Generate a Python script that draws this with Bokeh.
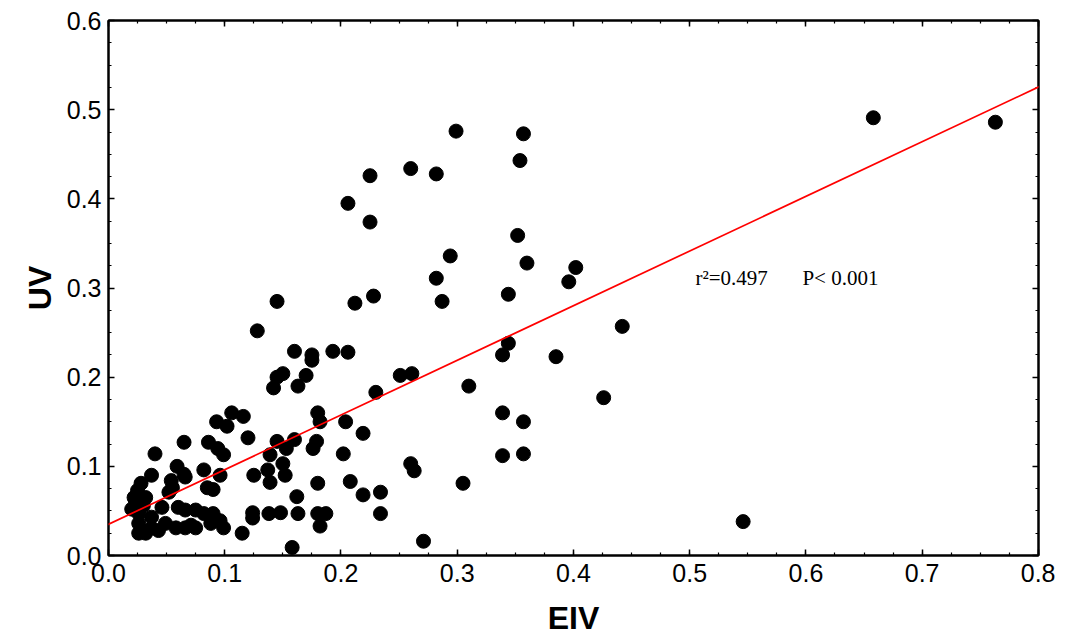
from bokeh.plotting import figure
from bokeh.models import (LinearAxis, SingleIntervalTicker, PrintfTickFormatter,
                          Slope, Label, Range1d, ColumnDataSource)
from bokeh.embed import file_html
from bokeh.resources import INLINE

# ---- data ----
eiv = [0.299, 0.357, 0.354, 0.260, 0.282, 0.225, 0.206, 0.225, 0.352, 0.360,
       0.294, 0.282, 0.402, 0.396, 0.344, 0.228, 0.212, 0.145, 0.287, 0.442,
       0.128, 0.160, 0.175, 0.175, 0.193, 0.206, 0.150, 0.145, 0.170, 0.142,
       0.163, 0.251, 0.261, 0.230, 0.344, 0.339, 0.385, 0.310, 0.426, 0.180,
       0.182, 0.204, 0.339, 0.357, 0.219, 0.106, 0.116, 0.093, 0.102, 0.120,
       0.065, 0.086, 0.145, 0.160, 0.179, 0.153, 0.176, 0.202, 0.339, 0.357,
       0.260, 0.263, 0.305, 0.150, 0.152, 0.180, 0.208, 0.219, 0.234, 0.162,
       0.148, 0.163, 0.180, 0.187, 0.234, 0.182, 0.271, 0.158, 0.546, 0.658,
       0.763,
       0.094, 0.099, 0.040, 0.139, 0.059, 0.065, 0.054, 0.055, 0.082, 0.085,
       0.090, 0.096, 0.037, 0.125, 0.137, 0.139, 0.138, 0.124, 0.124, 0.115,
       0.028, 0.025, 0.022, 0.066, 0.023, 0.032, 0.052, 0.046, 0.060, 0.066,
       0.026, 0.026, 0.026, 0.037, 0.037, 0.049, 0.058, 0.066, 0.075, 0.043,
       0.075, 0.032, 0.082, 0.090, 0.096, 0.088, 0.099, 0.071, 0.020, 0.030]
uv = [0.476, 0.473, 0.443, 0.434, 0.428, 0.426, 0.395, 0.374, 0.359, 0.328,
      0.336, 0.311, 0.323, 0.307, 0.293, 0.291, 0.283, 0.285, 0.285, 0.257,
      0.252, 0.229, 0.225, 0.219, 0.229, 0.228, 0.204, 0.200, 0.202, 0.188,
      0.190, 0.202, 0.204, 0.183, 0.238, 0.225, 0.223, 0.190, 0.177, 0.160,
      0.150, 0.150, 0.160, 0.150, 0.137, 0.160, 0.156, 0.150, 0.145, 0.132,
      0.127, 0.127, 0.128, 0.130, 0.128, 0.120, 0.120, 0.114, 0.112, 0.114,
      0.103, 0.095, 0.081, 0.103, 0.090, 0.081, 0.083, 0.068, 0.071, 0.066,
      0.048, 0.047, 0.047, 0.047, 0.047, 0.033, 0.016, 0.009, 0.038, 0.491,
      0.486,
      0.120, 0.113, 0.114, 0.113, 0.100, 0.091, 0.084, 0.076, 0.096, 0.076,
      0.074, 0.090, 0.090, 0.090, 0.096, 0.082, 0.047, 0.048, 0.042, 0.025,
      0.081, 0.073, 0.065, 0.088, 0.062, 0.065, 0.071, 0.054, 0.054, 0.051,
      0.047, 0.036, 0.025, 0.043, 0.031, 0.036, 0.031, 0.031, 0.051, 0.028,
      0.031, 0.025, 0.047, 0.047, 0.039, 0.036, 0.031, 0.034, 0.052, 0.056]

fit_intercept = 0.035
fit_slope = 0.613
stats_r2 = "r\u00b2=0.497"
stats_p = "P< 0.001"
x_label = "EIV"
y_label = "UV"

source = ColumnDataSource(data=dict(x=eiv, y=uv))

p = figure(frame_width=930, frame_height=535, output_backend="svg",
           toolbar_location=None,
           x_range=Range1d(0, 0.8001), y_range=Range1d(0, 0.6001),
           min_border_left=108, min_border_right=17,
           min_border_top=20, min_border_bottom=60,
           background_fill_color="white", border_fill_color="white")
p.grid.visible = False
p.outline_line_color = "black"
p.outline_line_width = 2

p.add_layout(LinearAxis(), "right")
p.add_layout(LinearAxis(), "above")

for ax in p.xaxis + p.yaxis:
    ax.ticker = SingleIntervalTicker(interval=0.1, num_minor_ticks=4)
    ax.formatter = PrintfTickFormatter(format="%.1f")
    ax.major_tick_in = 6
    ax.major_tick_out = 0
    ax.minor_tick_in = 3
    ax.minor_tick_out = 0
    ax.axis_line_width = 2
    ax.axis_line_color = "black"
    ax.major_tick_line_color = "black"
    ax.minor_tick_line_color = "black"
    ax.major_tick_line_width = 1.5
    ax.minor_tick_line_width = 1.2
    ax.major_label_text_font = "Liberation Sans"
    ax.major_label_text_font_size = "25px"
    ax.major_label_text_color = "black"

for ax in [p.right[0], p.above[0]]:
    ax.major_label_text_font_size = "1px"
    ax.major_label_text_color = None
    ax.major_label_standoff = 0

xa = p.below[0]
ya = p.left[0]
xa.major_label_standoff = 8
ya.major_label_standoff = 7
xa.axis_label = x_label
ya.axis_label = y_label
for ax in (xa, ya):
    ax.axis_label_text_font = "Liberation Sans"
    ax.axis_label_text_font_style = "bold"
    ax.axis_label_text_font_size = "32px"
    ax.axis_label_text_color = "black"
xa.axis_label_standoff = 15
ya.axis_label_standoff = 6

p.add_layout(Slope(gradient=fit_slope, y_intercept=fit_intercept,
                   line_color="#ff0000", line_width=1.7))

p.scatter("x", "y", source=source, size=14, fill_color="black",
          line_color="black", marker="circle")

p.add_layout(Label(x=0.505, y=0.311, text=stats_r2, text_font="Liberation Serif",
                   text_font_size="21px", text_color="black",
                   text_baseline="alphabetic"))
p.add_layout(Label(x=0.597, y=0.311, text=stats_p, text_font="Liberation Serif",
                   text_font_size="21px", text_color="black",
                   text_baseline="alphabetic"))

open("out.html", "w").write(file_html(p, INLINE))
